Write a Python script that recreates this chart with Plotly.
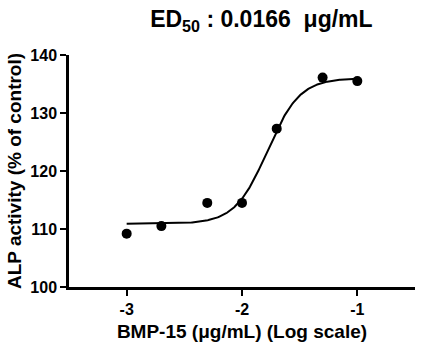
import numpy as np
import plotly.graph_objects as go

# Data
log_conc = [-3.0, -2.699, -2.301, -2.0, -1.699, -1.301, -1.0]
alp_activity = [109.2, 110.5, 114.5, 114.5, 127.3, 136.1, 135.5]

# 4-parameter logistic fit parameters
fit_bottom = 110.9
fit_top = 136.0
fit_log_ec50 = -1.78
fit_hill = 3.1

x_ticks = [-3, -2, -1]
x_tick_labels = ["-3", "-2", "-1"]
y_ticks = [100, 110, 120, 130, 140]

curve_x = np.linspace(min(log_conc), max(log_conc), 300)
curve_y = fit_bottom + (fit_top - fit_bottom) / (1 + 10 ** ((fit_log_ec50 - curve_x) * fit_hill))

FONT = "Liberation Sans, Arial, sans-serif"

fig = go.Figure()
fig.add_trace(go.Scatter(x=curve_x, y=curve_y, mode="lines",
                         line=dict(color="black", width=2), hoverinfo="skip"))
fig.add_trace(go.Scatter(x=log_conc, y=alp_activity, mode="markers",
                         marker=dict(color="black", size=10, symbol="circle")))

fig.update_layout(
    width=443, height=348,
    margin=dict(l=69, r=28, t=55, b=61, autoexpand=False),
    paper_bgcolor="white", plot_bgcolor="white",
    showlegend=False,
    font=dict(family=FONT, color="black", size=16, weight="bold"),
    title=dict(text="ED<sub>50</sub> : 0.0166  \u03bcg/mL",
               font=dict(family=FONT, size=23, color="black", weight="bold"),
               x=0.59, xanchor="center", y=0.945, yanchor="middle"),
    xaxis=dict(range=[-3.5, -0.5], tickvals=x_ticks, ticktext=x_tick_labels,
               automargin=False,
               showgrid=False, zeroline=False, showline=True, linecolor="black",
               linewidth=2.5, ticks="outside", ticklen=6, tickwidth=2, tickcolor="black",
               tickfont=dict(size=16, weight="bold"),
               title=dict(text="BMP-15 (\u03bcg/mL) (Log scale)", standoff=8,
                          font=dict(size=19, weight="bold"))),
    yaxis=dict(range=[100, 140], tickvals=y_ticks,
               automargin=False,
               showgrid=False, zeroline=False, showline=True, linecolor="black",
               linewidth=2.5, ticks="outside", ticklen=6, tickwidth=2, tickcolor="black",
               tickfont=dict(size=16, weight="bold"),
               title=dict(text="ALP activity (% of control)", standoff=4,
                          font=dict(size=19, weight="bold"))),
)

fig.write_html("out.html", config={"displayModeBar": False},
               post_script="document.body.style.margin='0';")
